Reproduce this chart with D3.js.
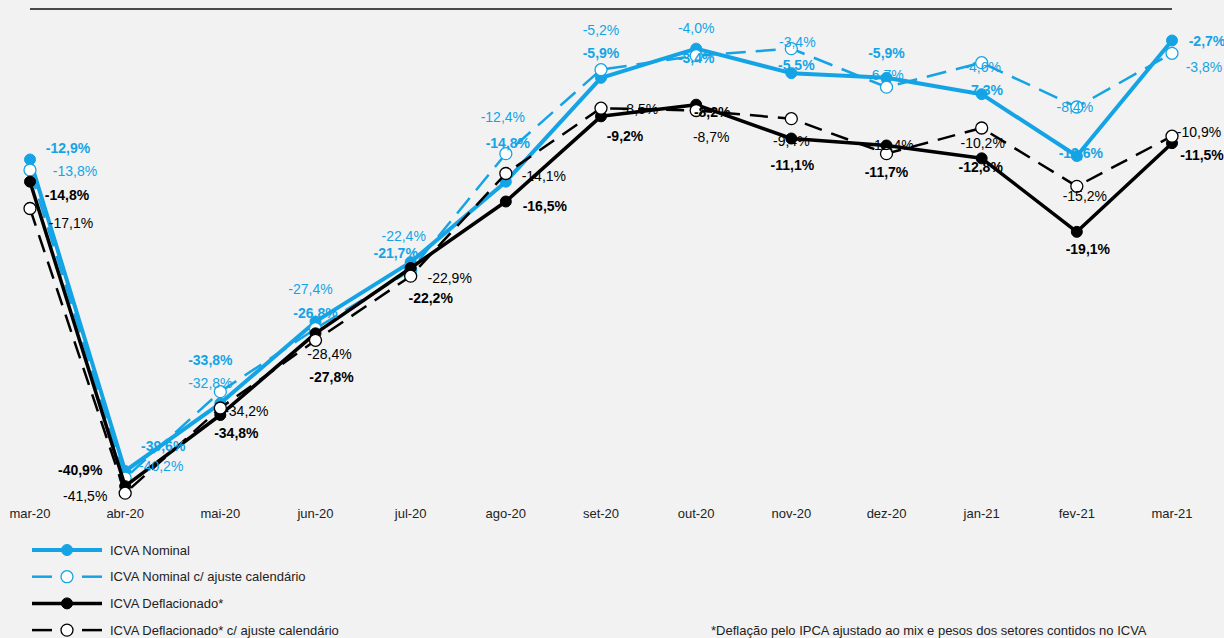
<!DOCTYPE html>
<html>
<head>
<meta charset="utf-8">
<script src="https://cdn.jsdelivr.net/npm/d3@7"></script>
<style>
  body { margin: 0; background: #f2f2f2; }
  svg { display: block; font-family: "Liberation Sans", Arial, sans-serif; }
</style>
</head>
<body>
<svg id="chart" width="1224" height="638"></svg>
<script>
// Data
let months = ["mar-20", "abr-20", "mai-20", "jun-20", "jul-20", "ago-20", "set-20",
  "out-20", "nov-20", "dez-20", "jan-21", "fev-21", "mar-21"];

let nominal = [-12.9, -39.6, -33.8, -26.8, -21.7, -14.8, -5.9, -3.4, -5.5, -5.9, -7.3, -12.6, -2.7];
let nominalAdj = [-13.8, -40.2, -32.8, -27.4, -22.4, -12.4, -5.2, -4.0, -3.4, -6.7, -4.6, -8.4, -3.8];
let deflated = [-14.8, -40.9, -34.8, -27.8, -22.2, -16.5, -9.2, -8.2, -11.1, -11.7, -12.8, -19.1, -11.5];
let deflatedAdj = [-17.1, -41.5, -34.2, -28.4, -22.9, -14.1, -8.5, -8.7, -9.4, -12.4, -10.2, -15.2, -10.9];

let seriesNames = ["ICVA Nominal", "ICVA Nominal c/ ajuste calendário",
  "ICVA Deflacionado*", "ICVA Deflacionado* c/ ajuste calendário"];

// Label nudges (dx, dy from the point), as placed in the original chart
let nominalLabelPos = [[38,-12],[38,-25],[-10,-43],[0,-9],[-15,-9],[2,-39],[0,-25],[0,9],[5,-8],[0,-25],[3,-4],[4,-3],[35,0]];
let nominalAdjLabelPos = [[45,1],[36,-12],[-10,-9],[-5,-40],[-7,-34],[-3,-37],[0,-40],[0,-28],[6,-7],[-1,-12],[1,4],[-2,0],[32,14]];
let deflatedLabelPos = [[37,13],[-45,-16],[16,18],[16,44],[20,30],[39,4],[24,20],[16,7],[1,26],[0,26],[-1,9],[11,17],[30,12]];
let deflatedAdjLabelPos = [[41,14],[-40,3],[26,3],[14,14],[39,2],[38,2],[39,1],[15,26],[0,22],[5,-9],[1,15],[8,10],[27,-4]];

let blue = "#14a4e6";
let black = "#000000";

let svg = d3.select("#chart");

let x = d3.scalePoint()
  .domain(months)
  .range([30, 1172]);

let y = d3.scaleLinear()
  .domain([-45, 0])
  .range([534, 9]);

// zero line at the top
svg.append("line")
  .attr("x1", x(months[0])).attr("x2", x(months[months.length - 1]))
  .attr("y1", y(0)).attr("y2", y(0))
  .attr("stroke", "#111").attr("stroke-width", 1.5);

// month labels
svg.append("g")
  .selectAll("text")
  .data(months)
  .join("text")
  .attr("x", d => x(d))
  .attr("y", 518)
  .attr("text-anchor", "middle")
  .attr("font-size", 13)
  .attr("fill", "#222")
  .text(d => d);

let series = [
  { name: seriesNames[0], values: nominal, color: blue, width: 4, dash: null, filled: true, bold: true, labelPos: nominalLabelPos },
  { name: seriesNames[1], values: nominalAdj, color: blue, width: 2.5, dash: "20,10", filled: false, bold: false, labelPos: nominalAdjLabelPos },
  { name: seriesNames[2], values: deflated, color: black, width: 3.5, dash: null, filled: true, bold: true, labelPos: deflatedLabelPos },
  { name: seriesNames[3], values: deflatedAdj, color: black, width: 2.5, dash: "18,10", filled: false, bold: false, labelPos: deflatedAdjLabelPos }
];

let line = d3.line()
  .x((d, i) => x(months[i]))
  .y(d => y(d));

series.forEach(function(s) {
  let g = svg.append("g");
  g.append("path")
    .datum(s.values)
    .attr("d", line)
    .attr("fill", "none")
    .attr("stroke", s.color)
    .attr("stroke-width", s.width)
    .attr("stroke-dasharray", s.dash)
    .attr("stroke-linejoin", "round");

  g.selectAll("circle")
    .data(s.values)
    .join("circle")
    .attr("cx", (d, i) => x(months[i]))
    .attr("cy", d => y(d))
    .attr("r", s.filled ? 5.5 : 6)
    .attr("fill", s.filled ? s.color : "#fff")
    .attr("stroke", s.color)
    .attr("stroke-width", s.filled ? 1 : 1.3);
});

// data labels on top
let fmt = v => d3.format(".1f")(v).replace("−", "-").replace(".", ",") + "%";

series.forEach(function(s) {
  svg.append("g")
    .selectAll("text")
    .data(s.values)
    .join("text")
    .attr("x", (d, i) => x(months[i]) + s.labelPos[i][0])
    .attr("y", (d, i) => y(d) + s.labelPos[i][1])
    .attr("dy", "0.36em")
    .attr("text-anchor", "middle")
    .attr("font-size", 14)
    .attr("font-weight", s.bold ? "bold" : "normal")
    .attr("fill", s.color)
    .text(d => fmt(d));
});

// legend
let legend = svg.append("g").attr("transform", "translate(32,550)");
series.forEach(function(s, i) {
  let row = legend.append("g").attr("transform", "translate(0," + (i * 26.7) + ")");
  if (s.dash) {
    row.append("line").attr("x1", 0).attr("x2", 20).attr("y1", 0).attr("y2", 0)
      .attr("stroke", s.color).attr("stroke-width", s.width);
    row.append("line").attr("x1", 50).attr("x2", 70).attr("y1", 0).attr("y2", 0)
      .attr("stroke", s.color).attr("stroke-width", s.width);
  } else {
    row.append("line").attr("x1", 0).attr("x2", 70).attr("y1", 0).attr("y2", 0)
      .attr("stroke", s.color).attr("stroke-width", s.width);
  }
  row.append("circle")
    .attr("cx", 35).attr("cy", 0)
    .attr("r", s.filled ? 5.5 : 6)
    .attr("fill", s.filled ? s.color : "#fff")
    .attr("stroke", s.color)
    .attr("stroke-width", s.filled ? 1 : 1.3);
  row.append("text")
    .attr("x", 78).attr("y", 0).attr("dy", "0.36em")
    .attr("font-size", 13)
    .attr("fill", "#222")
    .text(s.name);
});

svg.append("text")
  .attr("x", 711).attr("y", 635)
  .attr("font-size", 13)
  .attr("fill", "#222")
  .text("*Deflação pelo IPCA ajustado ao mix e pesos dos setores contidos no ICVA");
</script>
</body>
</html>
